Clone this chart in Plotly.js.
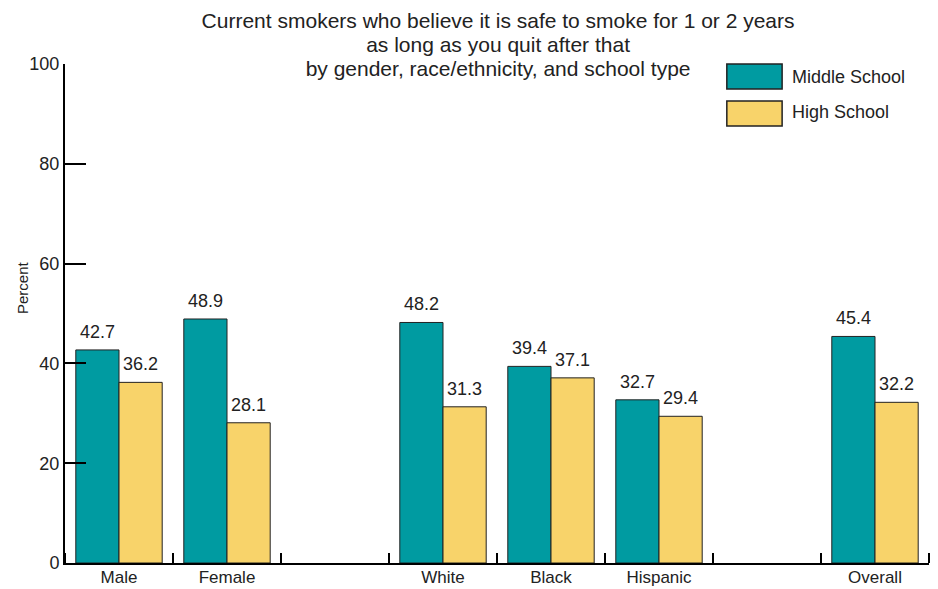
<!DOCTYPE html>
<html>
<head>
<meta charset="utf-8">
<script src="https://cdn.plot.ly/plotly-3.0.1.min.js"></script>
<style>html,body{margin:0;padding:0;background:#fff;}#chart{width:938px;height:589px;}</style>
</head>
<body>
<div id="chart"></div>
<script>
// Categories (empty strings are spacer slots between groups)
const categories = ["Male", "Female", "", "White", "Black", "Hispanic", "", "Overall"];
const middleSchool = [42.7, 48.9, null, 48.2, 39.4, 32.7, null, 45.4];
const highSchool   = [36.2, 28.1, null, 31.3, 37.1, 29.4, null, 32.2];
const seriesNames = ["Middle School", "High School"];
const seriesColors = ["#009ba1", "#f8d36a"];
const yTicks = [0, 20, 40, 60, 80, 100];
const titleLines = [
  "Current smokers who believe it is safe to smoke for 1 or 2 years",
  "as long as you quit after that",
  "by gender, race/ethnicity, and school type"
];

const xIdx = categories.map((c, i) => i);
const font = "Liberation Sans, Arial, Helvetica, sans-serif";
const txtColor = "#222";
const bargap = 0.2;
const series = [middleSchool, highSchool];
const barW = (1 - bargap) / series.length;

const data = series.map((vals, i) => ({
  type: "bar",
  name: seriesNames[i],
  x: xIdx,
  y: vals,
  marker: {color: seriesColors[i], line: {color: "#222", width: 1}},
  showlegend: false,
  hoverinfo: "x+y"
}));

// value labels above bars (annotations anchored to data coordinates)
const annotations = [];
series.forEach((vals, s) => {
  const off = -((1 - bargap) / 2) + barW * (s + 0.5);
  vals.forEach((v, i) => {
    if (v == null) return;
    annotations.push({x: i + off, y: v, xref: "x", yref: "y", text: v.toFixed(1),
      showarrow: false, yanchor: "bottom", yshift: 6,
      font: {family: font, size: 18, color: txtColor}});
  });
});

// custom legend with large swatches
const shapes = [];
const sw = {x0: 0.766, x1: 0.830};
const rows = [{y0: 0.950, y1: 1.0, ty: 0.974}, {y0: 0.876, y1: 0.926, ty: 0.903}];
seriesNames.forEach((n, i) => {
  shapes.push({type: "rect", xref: "paper", yref: "paper", x0: sw.x0, x1: sw.x1,
    y0: rows[i].y0, y1: rows[i].y1, fillcolor: seriesColors[i], line: {color: "#222", width: 1.5}});
  annotations.push({xref: "paper", yref: "paper", x: 0.8395, y: rows[i].ty, xanchor: "left", yanchor: "middle",
    text: n, showarrow: false, font: {family: font, size: 18, color: txtColor}});
});

// y-axis title
annotations.push({xref: "paper", yref: "paper", x: -0.0498, y: 0.553, xanchor: "center", yanchor: "middle",
  text: "Percent", textangle: -90, showarrow: false, font: {family: font, size: 15, color: txtColor}});

const layout = {
  width: 938, height: 589,
  margin: {l: 65, r: 9, t: 64, b: 26},
  paper_bgcolor: "#fff", plot_bgcolor: "#fff",
  font: {family: font, color: txtColor, size: 18},
  title: {
    text: titleLines.map(t => '<span style="font-size:21px">' + t + '</span>').join("<br>"),
    font: {family: font, size: 18.5, color: txtColor},
    x: 0.531, xanchor: "center", xref: "container",
    y: 0.952, yanchor: "top", yref: "container"
  },
  bargap: bargap, bargroupgap: 0, barmode: "group",
  xaxis: {
    range: [-0.5, categories.length - 0.5],
    tickvals: xIdx, ticktext: categories,
    ticks: "", showgrid: false, zeroline: false,
    showline: true, linecolor: "#000", linewidth: 2,
    tickfont: {family: font, size: 17, color: txtColor},
    ticklabelstandoff: -2,
    minor: {tick0: 0.5, dtick: 1, ticks: "inside", ticklen: 10, tickwidth: 2, tickcolor: "#000", showgrid: false},
    fixedrange: true
  },
  yaxis: {
    range: [0, 100],
    tickvals: yTicks,
    ticks: "inside", ticklen: 21, tickwidth: 2, tickcolor: "#000",
    showgrid: false, zeroline: false,
    showline: true, linecolor: "#000", linewidth: 2,
    tickfont: {family: font, size: 18, color: txtColor},
    fixedrange: true
  },
  shapes: shapes,
  annotations: annotations,
  showlegend: false
};

Plotly.newPlot("chart", data, layout, {displayModeBar: false, staticPlot: true});
</script>
</body>
</html>
